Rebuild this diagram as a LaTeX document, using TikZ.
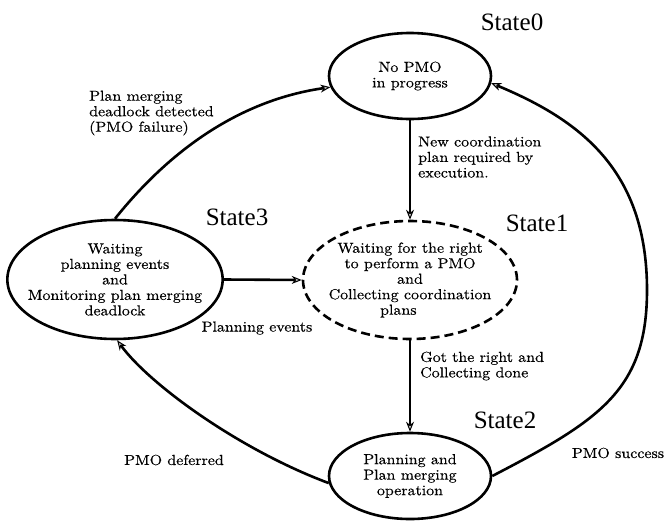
\documentclass[tikz,border=0pt]{standalone}
\usepackage{fontspec}
\newfontfamily\bodyfont{lmroman10-regular.otf}[FakeStretch=1.1,FakeBold=0.4]
\newfontfamily\statefont{Liberation Serif}
\usetikzlibrary{shapes.geometric,arrows.meta}
\begin{document}
\begin{tikzpicture}[x=1pt,y=-1pt,
  every node/.style={font=\bodyfont\fontsize{14.5}{15.5}\selectfont},
  st/.style={ellipse,draw,line width=2.6pt,inner sep=0pt,align=center},
  lbl/.style={inner sep=0pt,align=left},
  ctr/.style={inner sep=0pt,align=center},
  stname/.style={font=\statefont\fontsize{25}{30}\selectfont,inner sep=0pt},
  conn/.style={line width=2.6pt,-{Stealth[length=10pt,width=8pt,fill=gray!40,line width=1pt]}}]
\useasboundingbox (0,0) rectangle (666,522);

% states
\node[st,minimum width=162pt,minimum height=86pt] (s0) at (410,76)
  {No PMO\\in progress};
\node[st,dash pattern=on 9pt off 5pt,inner xsep=-6pt,minimum width=214pt,minimum height=118pt] (s1) at (410,280)
  {Waiting for the right\\to perform a PMO\\and\hspace*{1.6em}\\Collecting coordination\\plans\hspace*{1.6em}};
\node[st,minimum width=162pt,minimum height=86pt] (s2) at (410,476)
  {Planning and\\Plan merging\\operation};
\node[st,inner xsep=-11pt,minimum width=214pt,minimum height=119pt] (s3) at (115,279.5)
  {Waiting\\planning events\\and\\Monitoring plan merging\\deadlock};

% state names
\node[stname] (n0) at (512,22) {State0};
\node[stname] (n1) at (537,223) {State1};
\node[stname] (n2) at (505,420) {State2};
\node[stname] (n3) at (237,217) {State3};

% connectors
\draw[conn] (s0.south) -- (s1.north);
\draw[conn] (s1.south) -- (s2.north);
\draw[conn] (s3.east) -- (s1.west);
\draw[conn] (s3.north) .. controls (170,150) and (240,100) .. (s0.188);
\draw[conn] (s2.185) .. controls (240,450) and (150,385) .. (s3.-88);
\draw[conn] (s2.east) .. controls (600,420) and (647,390) .. (647,290)
  .. controls (647,170) and (580,120) .. (s0.-5);

% edge labels
\node[lbl,anchor=west] (l01) at (418,157) {New coordination\\plan required by\\execution.};
\node[lbl,anchor=west] (l30) at (89,113) {Plan merging\\deadlock detected\\(PMO failure)};
\node[lbl,anchor=west] (l12) at (420,366) {Got the right and\\Collecting done};
\node[ctr] (l31) at (257,328) {Planning events};
\node[ctr] (l23) at (174,460) {PMO deferred};
\node[ctr] (l20) at (618,453) {PMO success};
\end{tikzpicture}
\end{document}
